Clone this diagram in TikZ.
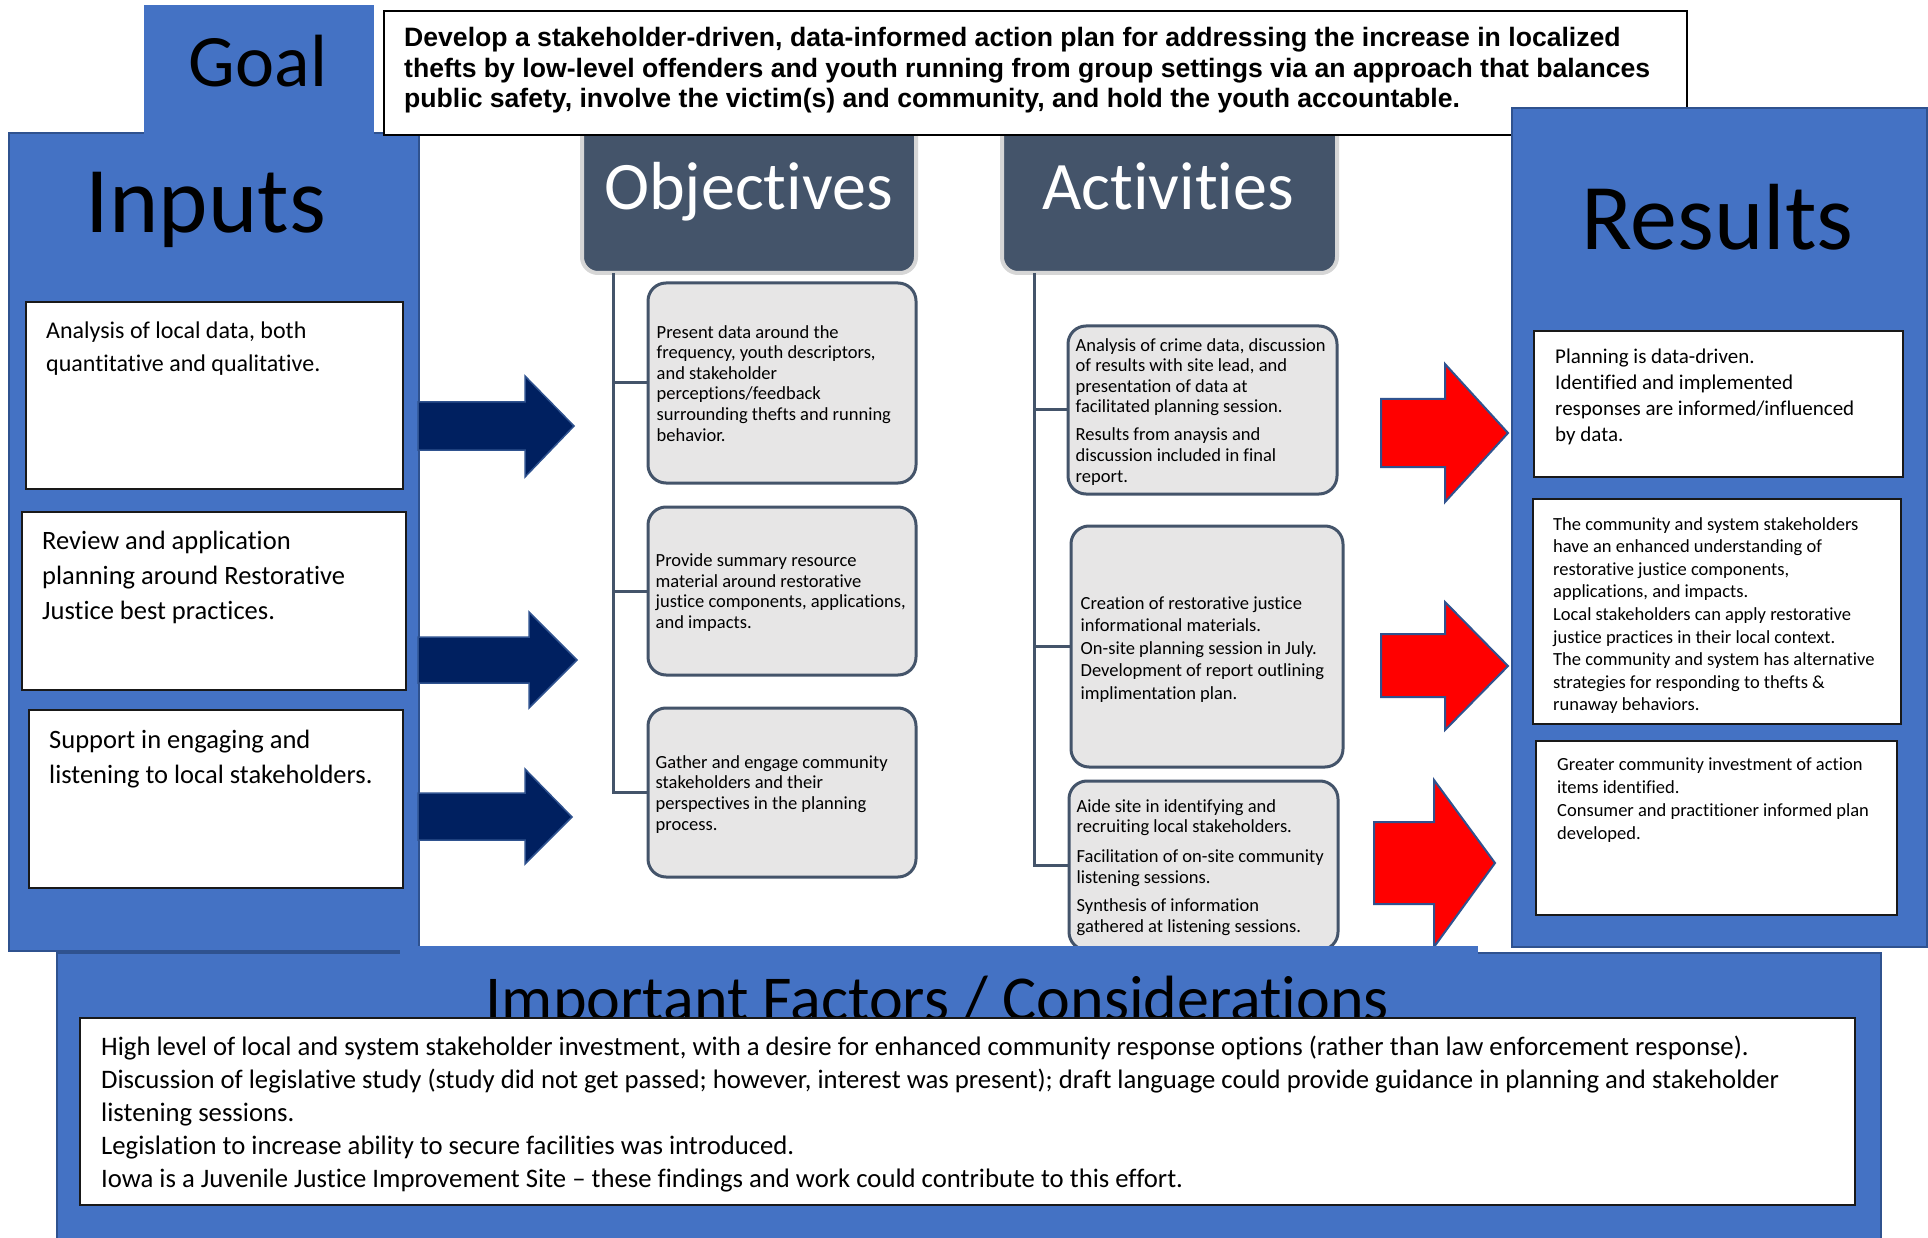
\documentclass[tikz,border=0pt]{standalone}
\usepackage{fontspec}
\setmainfont{Carlito}[Ligatures={TeX,NoCommon}]
\newfontfamily\arialfont{Liberation Sans}

\definecolor{officeblue}{HTML}{4472C4}
\definecolor{blueedge}{HTML}{2F528F}
\definecolor{navyfill}{HTML}{002060}
\definecolor{slate}{HTML}{44546A}
\definecolor{cardgray}{HTML}{E7E6E6}
\definecolor{halo}{HTML}{D6D6D6}

% font size shortcut: size and baseline skip in pt
\newcommand\fs[2]{\fontsize{#1}{#2}\selectfont}
% rectangle node from its corner coordinates (x1,y1,x2,y2)
\newcommand\mkbox[6]{\node[#2, inner sep=0pt, minimum width={(#5-#3)*1pt}, minimum height={(#6-#4)*1pt}] (#1) at ({(#3+#5)/2},{(#4+#6)/2}) {};}

\tikzset{
  panel/.style={fill=officeblue, draw=blueedge, line width=2pt},
  bluefill/.style={fill=officeblue, draw=none},
  whitebox/.style={fill=white, draw=black!90, line width=2pt},
  thinbox/.style={fill=white, draw=black, line width=1.5pt},
  header/.style={fill=slate, draw=halo, line width=4pt, rounded corners=16pt},
  stepcard/.style={fill=cardgray, draw=slate, line width=3pt, rounded corners=18pt},
  trunk/.style={draw=slate, line width=3pt},
  navyarrow/.style={fill=navyfill, draw=blueedge, line width=1.5pt, line join=miter},
  redarrow/.style={fill=red, draw=blueedge, line width=2pt, line join=miter},
  textblock/.style={anchor=north west, align=left, inner sep=0pt},
  cardtext/.style={anchor=west, align=left, inner sep=0pt, font=\fs{18.5}{20.6}},
}

\begin{document}
\begin{tikzpicture}[x=1pt,y=-1pt]
\useasboundingbox (0,0) rectangle (1928,1238);
\clip (0,0) rectangle (1928,1238);
\fill[white] (0,0) rectangle (1928,1238);

% ---------- Inputs column with the Goal tab ----------
\mkbox{inputs}{panel}{9}{133}{419}{951}
\mkbox{goalpanel}{bluefill}{144}{5}{374}{140}
\node[anchor=base, font=\fs{74}{74}] (goaltitle) at (258,87) {Goal};
\node[anchor=base, font=\fs{94}{94}] (inputstitle) at (206,233) {Inputs};

\mkbox{in1}{whitebox}{26}{302}{403}{489}
\node[textblock, font=\fs{24}{33}] (in1text) at (46,315.5)
  {\strut Analysis of local data, both\\quantitative and qualitative.};
\mkbox{in2}{whitebox}{22}{512}{406}{690}
\node[textblock, font=\fs{26.5}{35}] (in2text) at (42,525)
  {\strut Review and application\\planning around Restorative\\Justice best practices.};
\mkbox{in3}{whitebox}{29}{710}{403}{888}
\node[textblock, font=\fs{26.5}{35}] (in3text) at (49,724)
  {\strut Support in engaging and\\listening to local stakeholders.};

% ---------- column headers (tops tucked under the goal statement) ----------
\mkbox{objhead}{header}{582}{105}{916}{273}
\mkbox{acthead}{header}{1002}{105}{1337}{273}

% ---------- goal statement ----------
\mkbox{goalbox}{thinbox}{384}{11}{1687}{135}
\node[textblock, font=\arialfont\bfseries\fs{26.6}{30.5}] (goaltext) at (404,25)
  {\strut Develop a stakeholder-driven, data-informed action plan for addressing the increase in localized\\
   thefts by low-level offenders and youth running from group settings via an approach that balances\\
   public safety, involve the victim(s) and community, and hold the youth accountable.};

\node[anchor=base, text=white, font=\fs{68}{68}] (objtitle) at (748.5,210) {Objectives};
\node[anchor=base, text=white, font=\fs{68}{68}] (acttitle) at (1168,210) {Activities};

% ---------- Results column ----------
\mkbox{results}{panel}{1512}{108}{1927}{947}
\node[anchor=base, font=\fs{94}{94}] (restitle) at (1717.5,250) {Results};

\mkbox{r1}{whitebox}{1534}{331}{1903}{477}
\node[textblock, font=\fs{21}{26}] (r1text) at (1555,345.5)
  {\strut Planning is data-driven.\\Identified and implemented\\responses are informed/influenced\\by data.};
\mkbox{r2}{whitebox}{1533}{499}{1901}{724}
\node[textblock, font=\fs{18.5}{22.6}] (r2text) at (1553,514)
  {\strut The community and system stakeholders\\have an enhanced understanding of\\restorative justice components,\\applications, and impacts.\\Local stakeholders can apply restorative\\justice practices in their local context.\\The community and system has alternative\\strategies for responding to thefts \&\\runaway behaviors.};
\mkbox{r3}{whitebox}{1536}{741}{1897}{915}
\node[textblock, font=\fs{18.5}{23}] (r3text) at (1557,754.5)
  {\strut Greater community investment of action\\items identified.\\Consumer and practitioner informed plan\\developed.};

% ---------- Objectives ----------
\mkbox{ob1}{stepcard}{648}{283}{916}{483}
\node[cardtext] (ob1text) at ([xshift=10pt,yshift=-2.5pt]ob1.west)
  {\strut Present data around the\\frequency, youth descriptors,\\and stakeholder\\perceptions/feedback\\surrounding thefts and running\\behavior.\strut};
\mkbox{ob2}{stepcard}{648}{507}{916}{675}
\node[cardtext] (ob2text) at ([xshift=9pt,yshift=-2.5pt]ob2.west)
  {\strut Provide summary resource\\material around restorative\\justice components, applications,\\and impacts.\strut};
\mkbox{ob3}{stepcard}{648}{708}{916}{877}
\node[cardtext] (ob3text) at ([xshift=9pt,yshift=-2.5pt]ob3.west)
  {\strut Gather and engage community\\stakeholders and their\\perspectives in the planning\\process.\strut};

\coordinate (objroot) at (613,273);
\draw[trunk] (objroot) |- (ob3.west);
\draw[trunk] (ob1.west -| objroot) -- (ob1.west);
\draw[trunk] (ob2.west -| objroot) -- (ob2.west);

% ---------- Activities ----------
\mkbox{ac1}{stepcard}{1068}{326}{1337}{494}
\node[cardtext] (ac1text) at ([xshift=9pt,yshift=-2.5pt]ac1.west)
  {\strut Analysis of crime data, discussion\\of results with site lead, and\\presentation of data at\\facilitated planning session.\\[7.4pt]Results from anaysis and\\discussion included in final\\report.\strut};
\mkbox{ac2}{stepcard}{1071}{526}{1343}{767}
\node[cardtext, font=\fs{18.5}{22.5}] (ac2text) at ([xshift=11pt,yshift=-3pt]ac2.west)
  {\strut Creation of restorative justice\\informational materials.\\On-site planning session in July.\\Development of report outlining\\implimentation plan.\strut};
\mkbox{ac3}{stepcard}{1069}{781}{1338}{950}
\node[cardtext] (ac3text) at ([xshift=9pt,yshift=-2.5pt]ac3.west)
  {\strut Aide site in identifying and\\recruiting local stakeholders.\\[9.4pt]Facilitation of on-site community\\listening sessions.\\[7.4pt]Synthesis of information\\gathered at listening sessions.\strut};

\coordinate (actroot) at (1034,273);
\draw[trunk] (actroot) |- (ac3.west);
\draw[trunk] (ac1.west -| actroot) -- (ac1.west);
\draw[trunk] (ac2.west -| actroot) -- (ac2.west);

% ---------- block arrows: inputs to objectives ----------
\draw[navyarrow] (418,402) -- (525,402) -- (525,376) -- (574,426) -- (525,477) -- (525,450) -- (418,450) -- cycle;
\draw[navyarrow] (418,637) -- (529,637) -- (529,612) -- (577,660) -- (529,708) -- (529,683) -- (418,683) -- cycle;
\draw[navyarrow] (418,793) -- (525,793) -- (525,769) -- (572,817) -- (525,864) -- (525,840) -- (418,840) -- cycle;

% ---------- block arrows: activities to results ----------
\draw[redarrow] (1381,399) -- (1445,399) -- (1445,364) -- (1508,433) -- (1445,502) -- (1445,467) -- (1381,467) -- cycle;
\draw[redarrow] (1381,634) -- (1445,634) -- (1445,602) -- (1508,666) -- (1445,730) -- (1445,697) -- (1381,697) -- cycle;
\draw[redarrow] (1374,822) -- (1434,822) -- (1434,780) -- (1495,863) -- (1434,947) -- (1434,904) -- (1374,904) -- cycle;

% ---------- Important factors ----------
\mkbox{factors}{panel}{57}{953}{1881}{1262}
\fill[officeblue] (400,946) rectangle (1478,955);
\node[anchor=base, font=\fs{64}{64}] (factorstitle) at (937.5,1020) {Important Factors / Considerations};
\mkbox{factorsbox}{whitebox}{80}{1018}{1855}{1205}
\node[textblock, font=\fs{26.7}{33}] (factorstext) at (101,1031.7)
  {\strut High level of local and system stakeholder investment, with a desire for enhanced community response options (rather than law enforcement response).\\
   Discussion of legislative study (study did not get passed; however, interest was present); draft language could provide guidance in planning and stakeholder\\
   listening sessions.\\
   Legislation to increase ability to secure facilities was introduced.\\
   Iowa is a Juvenile Justice Improvement Site – these findings and work could contribute to this effort.};
\end{tikzpicture}
\end{document}
